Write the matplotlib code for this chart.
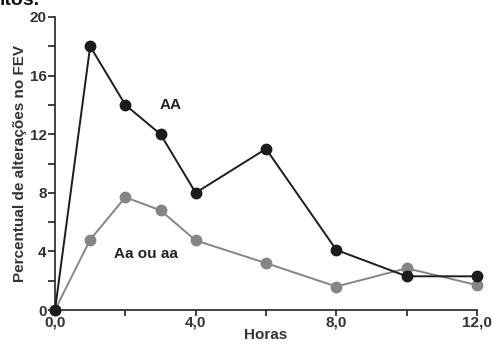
import matplotlib
matplotlib.use('Agg')
import matplotlib.pyplot as plt
from matplotlib.ticker import MultipleLocator, FixedLocator

plt.rcParams['font.family'] = ['Liberation Sans', 'DejaVu Sans']

# dados
horas = [0, 1, 2, 3, 4, 6, 8, 10, 12]
aa_vals = [0, 18, 14, 12, 8, 11, 4.1, 2.3, 2.3]
aa_ou_aa_vals = [0, 4.8, 7.7, 6.8, 4.75, 3.2, 1.6, 2.85, 1.7]

x_ticks = [0, 4, 8, 12]
x_labels = ['0,0', '4,0', '8,0', '12,0']
y_ticks = [0, 4, 8, 12, 16, 20]

txt = '#333333'

fig = plt.figure(figsize=(4.92, 3.45), dpi=100)
ax = fig.add_axes([55/492, 1 - 310/345, (477 - 55)/492, (310 - 17)/345])

ax.plot(horas, aa_ou_aa_vals, color='#858585', lw=1.4, marker='o', ms=7.5,
        clip_on=False, zorder=3)
ax.plot(horas, aa_vals, color='#1c1c1c', lw=1.4, marker='o', ms=7.5,
        clip_on=False, zorder=4)

ax.set_xlim(0, 12)
ax.set_ylim(0, 20)
ax.spines['top'].set_visible(False)
ax.spines['right'].set_visible(False)
for s in ('left', 'bottom'):
    ax.spines[s].set_linewidth(1.2)
    ax.spines[s].set_color('#222222')

ax.xaxis.set_major_locator(FixedLocator(x_ticks))
ax.set_xticklabels(x_labels)
ax.xaxis.set_minor_locator(MultipleLocator(2))
ax.yaxis.set_major_locator(FixedLocator(y_ticks))
ax.yaxis.set_minor_locator(MultipleLocator(2))
ax.tick_params(which='both', direction='out', width=1.2, color='#222222',
               labelsize=11, labelcolor=txt)
ax.tick_params(axis='y', which='both', length=5, pad=1)
ax.tick_params(axis='x', which='both', length=4, pad=0)
for lab in ax.get_xticklabels() + ax.get_yticklabels():
    lab.set_fontweight('bold')

ax.set_xlabel('Horas', fontsize=11, fontweight='bold', color=txt, labelpad=-1)
ax.set_ylabel('Percentual de alterações no FEV', fontsize=11,
              fontweight='bold', color=txt, labelpad=2)

ax.text(3.3, 14.0, 'AA', fontsize=11, fontweight='bold', color='#222222',
        ha='center', va='center')
ax.text(2.6, 3.85, 'Aa ou aa', fontsize=11, fontweight='bold',
        color='#222222', ha='center', va='center')

fig.text(0.0, 1 - 5/345, 'itos.', fontsize=14, fontweight='bold',
         color='#111111', ha='left', va='baseline')

fig.savefig('out.png', dpi=100)
